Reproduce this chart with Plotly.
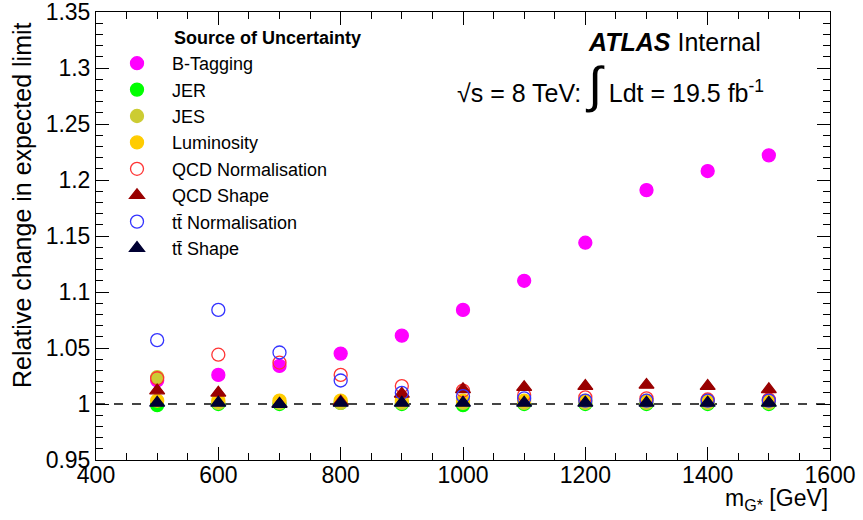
import plotly.graph_objects as go

# signal mass points
mass = [500, 600, 700, 800, 900, 1000, 1100, 1200, 1300, 1400, 1500]

# relative change in expected limit per systematic source
btag = [1.021, 1.026, 1.034, 1.045, 1.061, 1.084, 1.110, 1.144, 1.191, 1.208, 1.222]
jer = [0.999, 1.000, 1.000, 1.001, 1.000, 0.999, 1.000, 1.000, 1.000, 1.000, 1.000]
jes = [1.024, 1.001, 1.001, 1.001, 1.001, 1.001, 1.001, 1.001, 1.001, 1.001, 1.001]
lumi = [1.003, 1.003, 1.003, 1.003, 1.003, 1.003, 1.003, 1.003, 1.003, 1.003, 1.003]
qcd_norm = [1.023, 1.044, 1.037, 1.026, 1.016, 1.012, 1.008, 1.006, 1.005, 1.004, 1.004]
qcd_shape = [1.012, 1.010, 1.000, 1.002, 1.009, 1.013, 1.015, 1.016, 1.017, 1.016, 1.013]
tt_norm = [1.057, 1.084, 1.046, 1.021, 1.010, 1.007, 1.005, 1.003, 1.003, 1.003, 1.003]
tt_shape = [1.001, 1.001, 1.000, 1.001, 1.001, 1.001, 1.001, 1.001, 1.001, 1.001, 1.001]

series = [
    ("B-Tagging", btag, "circle", "#FF00FF"),
    ("JER", jer, "circle", "#00FF00"),
    ("JES", jes, "circle", "#CCCC33"),
    ("Luminosity", lumi, "circle", "#FFCC00"),
    ("QCD Normalisation", qcd_norm, "circle-open", "#FF3333"),
    ("QCD Shape", qcd_shape, "triangle-up", "#990000"),
    ("tt\u0304 Normalisation", tt_norm, "circle-open", "#3333FF"),
    ("tt\u0304 Shape", tt_shape, "triangle-up", "#000033"),
]

pad = "\u00a0\u00a0"
fig = go.Figure()
for i, (name, vals, sym, col) in enumerate(series):
    fig.add_trace(go.Scatter(
        x=mass, y=vals, mode="markers", name=pad + name, legendgroup=str(i),
        marker=dict(symbol=sym, size=13, color=col, line=dict(width=1.3, color=col)),
    ))

# reference line at 1
fig.add_shape(type="line", xref="paper", yref="y", x0=0, x1=1, y0=1, y1=1,
              line=dict(color="#444444", width=2, dash="dash"), layer="below")

font = "Liberation Sans, Arial, sans-serif"
axis_common = dict(showline=True, linecolor="black", linewidth=1, mirror="allticks",
                   ticks="inside", ticklen=13, tickcolor="black", showgrid=False,
                   zeroline=False, automargin=False, ticklabeloverflow="allow",
                   tickfont=dict(size=23, color="black"))

# plot frame in page pixels
W, L, T, H = 734, 96, 12, 448


def px(x):
    return (x - L) / W


def py(y):
    return 1 - (y - T) / H


fig.update_layout(
    width=863, height=520,
    margin=dict(l=96, r=33, t=12, b=60, autoexpand=False),
    paper_bgcolor="white", plot_bgcolor="white",
    font=dict(family=font, color="black"),
    showlegend=True,
    legend=dict(x=px(112), y=py(45), xanchor="left", yanchor="top",
                font=dict(size=18), tracegroupgap=0, bgcolor="rgba(0,0,0,0)",
                itemwidth=40),
    xaxis=dict(range=[400, 1600], dtick=200, tick0=400, ticklabelstandoff=-6,
               minor=dict(dtick=50, ticks="inside", ticklen=7, tickcolor="black"),
               **axis_common),
    yaxis=dict(range=[0.95, 1.35], dtick=0.05, tick0=0.95,
               minor=dict(dtick=0.01, ticks="inside", ticklen=7, tickcolor="black"),
               **axis_common),
    annotations=[
        dict(text="Relative change in expected limit", xref="paper", yref="paper",
             x=px(22), y=py(205), xanchor="center", yanchor="middle", textangle=-90,
             showarrow=False, font=dict(size=25)),
        dict(text="<b>Source of Uncertainty</b>", xref="paper", yref="paper",
             x=px(172), y=py(38), xanchor="left", yanchor="middle",
             showarrow=False, font=dict(size=18)),
        dict(text="<b><i>ATLAS</i></b> Internal", xref="paper", yref="paper",
             x=px(763), y=py(42), xanchor="right", yanchor="middle",
             showarrow=False, font=dict(size=25)),
        dict(text="\u221as = 8 TeV: <span style='font-size:50px'>\u222b</span> Ldt = 19.5 fb<sup>-1</sup>",
             xref="paper", yref="paper",
             x=px(766), y=py(85), xanchor="right", yanchor="middle",
             showarrow=False, font=dict(size=25)),
        dict(text="m<sub>G*</sub> [GeV]", xref="paper", yref="paper",
             x=1, y=py(500), xanchor="right", yanchor="middle",
             showarrow=False, font=dict(size=23)),
    ],
)

# drop the browser's default body margin so the figure fills the window
fig.write_html("out.html", config={"displayModeBar": False},
               post_script="document.body.style.margin='0';")
